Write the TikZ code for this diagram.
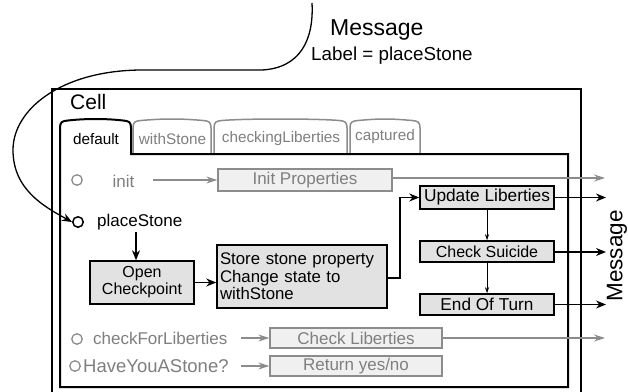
\documentclass[tikz,border=0pt]{standalone}
\usepackage{fontspec}
\setmainfont{Liberation Sans}
\usetikzlibrary{arrows.meta}
\newcommand\fsz[1]{\fontsize{#1}{#1}\selectfont}
\definecolor{gtxt}{HTML}{7F7F7F}
\definecolor{gline}{HTML}{8C8C8C}
\definecolor{bfill}{HTML}{E2E2E2}
\definecolor{gfill}{HTML}{F0F0F0}
\tikzset{
  bbox/.style={draw=black, line width=1.5pt, fill=bfill, inner sep=2pt, font=\fsz{16.5}},
  gbox/.style={draw=gline, line width=1.3pt, fill=gfill, inner sep=2pt, text=gtxt, font=\fsz{17}},
  bcirc/.style={circle, draw=black, line width=1.5pt, minimum size=10.5pt, inner sep=0pt},
  gcirc/.style={circle, draw=gline, line width=1.3pt, minimum size=10.5pt, inner sep=0pt},
  btxt/.style={font=\fsz{17}, inner sep=0pt},
  gtext/.style={font=\fsz{17}, text=gtxt, inner sep=0pt},
  barrow/.style={line width=1.6pt, -{Stealth[length=10pt,width=8pt]}},
  garrow/.style={line width=1.2pt, draw=gline, -{Stealth[length=11pt,width=7pt]}},
  tarrow/.style={line width=0.8pt, -{Stealth[length=6pt,width=4pt]}},
  tabtxt/.style={font=\fsz{15.3}, inner sep=0pt},
}
\newcommand\tabshape[3]{%
  \draw[#1] (#2,154) -- (#2,128) .. controls (#2,122) and (#2+2,121) .. (#2+8,120.5)
     .. controls (#2+30,118.5) and (#3-30,118.5) .. (#3-8,120.5)
     .. controls (#3-2,121) and (#3,122) .. (#3,128) -- (#3,154);}
\begin{document}
\begin{tikzpicture}[x=1pt,y=-1pt]
\useasboundingbox (0,0) rectangle (628,391);
\clip (0,0) rectangle (628,391);
\fill[white] (0,0) rectangle (628,391);
% Cell box
\draw[line width=1.3pt] (52,89) rectangle (581,400);
\node[anchor=base west, font=\fsz{21}, inner sep=0pt] (cell) at (70,109) {Cell};
% grey tabs
\tabshape{draw=gline, line width=1.5pt}{133}{211}
\tabshape{draw=gline, line width=1.5pt}{214}{347}
\tabshape{draw=gline, line width=1.5pt}{350}{420}
% default tab + panel
\draw[line width=2pt, fill=white] (60,387) -- (60,128) .. controls (60,122) and (62,121) .. (68,120.5)
     .. controls (85,118.5) and (106,118.5) .. (123,120.5)
     .. controls (129,121) and (131,122) .. (131,128) -- (131,154) -- (568,154) -- (568,387) -- cycle;
\node[tabtxt] (tdef) at (96,139) {default};
\node[tabtxt, text=gtxt] (tws) at (172.5,139) {withStone};
\node[tabtxt, text=gtxt] (tcl) at (281,139) {checkingLiberties};
\node[tabtxt, text=gtxt] (tcap) at (385,137) {captured};
% init row
\node[gcirc] (cinit) at (77,180) {};
\node[gtext] (linit) at (123.5,181) {init};
\node[gbox, minimum width=174pt, minimum height=22pt] (binit) at (305,180) {Init Properties};
\coordinate (ainit1) at (153,180);
\draw[garrow] (ainit1) -- (binit.west);
\coordinate (oinit) at (605,178);
\draw[garrow] (binit.east |- oinit) -- (oinit);
% placeStone row
\node[bcirc] (cps) at (78,222) {};
\node[btxt, anchor=west] (lps) at (97,222) {placeStone};
\node[bbox, minimum width=104pt, minimum height=43pt, align=center, font=\fontsize{16}{17}\selectfont] (bopen) at (142,282.5) {Open\\Checkpoint};
\node[bbox, minimum width=170pt, minimum height=63pt, align=left, text width=164pt, font=\fontsize{16.8}{17.6}\selectfont] (bstore) at (302,276.5) {Store stone property\\Change state to\\withStone};
\node[bbox, minimum width=134pt, minimum height=23pt, font=\fsz{17.3}] (bupd) at (487,197.5) {Update Liberties};
\node[bbox, minimum width=134pt, minimum height=21pt, font=\fsz{16}] (bsui) at (487,251.5) {Check Suicide};
\node[bbox, minimum width=134pt, minimum height=21pt, font=\fsz{17.2}] (bend) at (487,304.5) {End Of Turn};
\draw[barrow] (136,232) -- (bopen.north -| 136,0);
\draw[barrow] (bopen.east) -- (bstore.west |- bopen.east);
\draw[barrow] (bstore.east |- 0,278) -| (400,197.5) -- (bupd.west);
\draw[tarrow] (bupd.south) -- (bsui.north);
\draw[tarrow] (bsui.south) -- (bend.north);
\coordinate (o1) at (606,197.5);
\coordinate (o2) at (606,252);
\coordinate (o3) at (606,304.5);
\draw[barrow] (bupd.east) -- (o1);
\draw[barrow] (bsui.east |- o2) -- (o2);
\draw[barrow] (bend.east) -- (o3);
\node[font=\fsz{22.5}, rotate=90, inner sep=0pt] (msgr) at (617,256) {Message};
% checkForLiberties row
\node[gcirc] (ccfl) at (77,339) {};
\node[gtext, anchor=west] (lcfl) at (93,338) {checkForLiberties};
\node[gbox, minimum width=172pt, minimum height=20pt] (bcfl) at (356,338) {Check Liberties};
\coordinate (acfl) at (241,338);
\draw[garrow] (acfl) -- (bcfl.west);
\coordinate (ocfl) at (605,338);
\draw[garrow] (bcfl.east) -- (ocfl);
% HaveYouAStone row
\node[gcirc] (chys) at (75,366) {};
\node[gtext, anchor=west, font=\fsz{18.5}] (lhys) at (83,366) {HaveYouAStone?};
\node[gbox, minimum width=172pt, minimum height=20pt] (bhys) at (356,366) {Return yes/no};
\coordinate (ahys) at (241,366);
\draw[garrow] (ahys) -- (bhys.west);
% message
\coordinate (mstart) at (312,3);
\node[anchor=base west, font=\fsz{23}, inner sep=0pt] (msg) at (330,35) {Message};
\node[anchor=base west, font=\fsz{18.8}, inner sep=0pt] (lbl) at (311,60) {Label = placeStone};
\draw[line width=1.3pt, -{Stealth[length=10pt,width=8pt]}] (mstart) .. controls (314,40) and (300,68) .. (262,70)
   -- (140,70) .. controls (60,71) and (13,110) .. (13,150)
   .. controls (13,190) and (45,207) .. (cps.west);
\end{tikzpicture}
\end{document}
